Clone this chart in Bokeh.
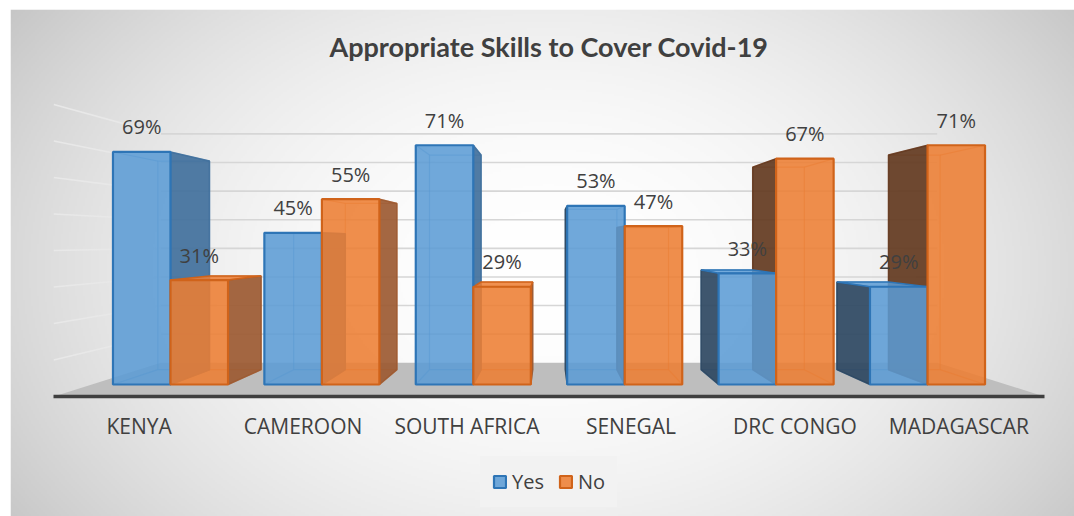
import numpy as np
from bokeh.plotting import figure
from bokeh.models import (Range1d, LinearAxis, FixedTicker, Legend, LegendItem,
                          Label, ColumnDataSource)
from bokeh.core.properties import value
from bokeh.embed import file_html
from bokeh.resources import INLINE

# ---------------- data ----------------
categories = ["KENYA", "CAMEROON", "SOUTH AFRICA", "SENEGAL", "DRC CONGO", "MADAGASCAR"]
yes_values = [69, 45, 71, 53, 33, 29]
no_values = [31, 55, 29, 47, 67, 71]
series_names = ["Yes", "No"]
title_text = "Appropriate Skills to Cover Covid-19"

# ---------------- layout / view parameters ----------------
W, H = 1074, 516
LEFT_PAD, TOP_PAD = 10, 9
FRAME_W, FRAME_H = W - LEFT_PAD, H - TOP_PAD
PX_PER_CAT = 151.4
PX_PER_PCT = 3.37
FIRST_CAT_PX = 160.0
ZERO_PX_FROM_BOTTOM = 132.0
X_START = -FIRST_CAT_PX / PX_PER_CAT
X_END = X_START + FRAME_W / PX_PER_CAT
Y_START = -ZERO_PX_FROM_BOTTOM / PX_PER_PCT
Y_END = Y_START + FRAME_H / PX_PER_PCT

BAR_W = 0.38
VX, VY = 2.5, 42.7                       # vanishing point (data units)
S_BACK, S_WALL, S_FRONT = 0.897, 0.849, 1.083
WALL_L, WALL_R = -0.52, 5.52
GRID_VALUES = [10, 20, 30, 40, 50, 60, 70, 80]

FONT = "Open Sans"
TEXT_COLOR = "#404040"

STYLE = {
    "Yes": dict(front="#5b9bd5", line="#2e75b6", side_r="#41709c", side_l="#2e4862"),
    "No": dict(front="#ed7d31", line="#d0631a", side_r="#9c5a32", side_l="#633920"),
}


def proj(x, y, s):
    return VX + s * (x - VX), VY + s * (y - VY)


p = figure(width=W, height=H, output_backend="svg", toolbar_location=None,
           x_range=Range1d(X_START, X_END), y_range=Range1d(Y_START, Y_END),
           x_axis_type=None, y_axis_type=None, min_border=0,
           min_border_left=LEFT_PAD, min_border_top=TOP_PAD)
p.outline_line_color = None
p.border_fill_color = "white"
p.background_fill_color = "white"
p.grid.visible = False

# ---------------- radial background ----------------
nx, ny = FRAME_W // 2, FRAME_H // 2
gx = LEFT_PAD + (np.arange(nx) + 0.5) * FRAME_W / nx
gy = TOP_PAD + FRAME_H - (np.arange(ny) + 0.5) * FRAME_H / ny
GX, GY = np.meshgrid(gx, gy)
r2 = ((GX - 548) / 600) ** 2 + ((GY - 270) / 420) ** 2
g = (255 - 48 * np.clip(r2, 0, 1.6)).astype(np.uint8)
img = np.empty((ny, nx), dtype=np.uint32)
view = img.view(dtype=np.uint8).reshape((ny, nx, 4))
view[:, :, 0] = g
view[:, :, 1] = g
view[:, :, 2] = g
view[:, :, 3] = 255
p.image_rgba(image=[img], x=X_START, y=Y_START, dw=X_END - X_START, dh=Y_END - Y_START)

# ---------------- walls & floor ----------------
bx0, by0, bx1, by1 = [], [], [], []
lx0, ly0, lx1, ly1 = [], [], [], []
for v in GRID_VALUES:
    a = proj(WALL_L, v, S_WALL)
    b = proj(WALL_R, v, S_WALL)
    c = proj(WALL_L, v, S_FRONT)
    bx0.append(a[0]); by0.append(a[1]); bx1.append(b[0]); by1.append(b[1])
    lx0.append(c[0]); ly0.append(c[1]); lx1.append(a[0]); ly1.append(a[1])
p.segment(x0=bx0, y0=by0, x1=bx1, y1=by1, line_color="#d6d6d6", line_width=1.6)
p.segment(x0=lx0, y0=ly0, x1=lx1, y1=ly1, line_color="#e8e8e8", line_width=1.6)

fl = [proj(WALL_L, 0, S_FRONT), proj(WALL_R, 0, S_FRONT),
      proj(WALL_R, 0, S_WALL), proj(WALL_L, 0, S_WALL)]
p.patch(x=[q[0] for q in fl], y=[q[1] for q in fl], fill_color="#bebebe", line_color=None)

# ---------------- 3D bars ----------------
side_xs, side_ys, side_col = [], [], []
top_xs, top_ys, top_col, top_line = [], [], [], []
edge_xs, edge_ys, edge_col = [], [], []
fronts = {}
for j, (name, vals) in enumerate(zip(series_names, [yes_values, no_values])):
    st = STYLE[name]
    cx = []
    for i, h in enumerate(vals):
        x0 = i - BAR_W if j == 0 else i
        x1 = x0 + BAR_W
        cx.append((x0 + x1) / 2)
        bl, br = proj(x0, 0, S_BACK), proj(x1, 0, S_BACK)
        tl, tr = proj(x0, h, S_BACK), proj(x1, h, S_BACK)
        # back outline + depth edges (seen through the translucent front)
        edge_xs.append([bl[0], br[0], tr[0], tl[0], bl[0]])
        edge_ys.append([bl[1], br[1], tr[1], tl[1], bl[1]])
        edge_col.append(st["line"])
        for (fx, fy), bk in [((x0, 0), bl), ((x1, 0), br), ((x1, h), tr), ((x0, h), tl)]:
            edge_xs.append([fx, bk[0]]); edge_ys.append([fy, bk[1]]); edge_col.append(st["line"])
        centre = (x0 + x1) / 2
        if centre < VX:
            side_xs.append([x1, x1, tr[0], br[0]]); side_ys.append([0, h, tr[1], br[1]])
            side_col.append(st["side_r"])
        else:
            side_xs.append([x0, x0, tl[0], bl[0]]); side_ys.append([0, h, tl[1], bl[1]])
            side_col.append(st["side_l"])
        if h < VY:
            top_xs.append([x0, x1, tr[0], tl[0]]); top_ys.append([h, h, tr[1], tl[1]])
            top_col.append(st["front"]); top_line.append(st["line"])
    fronts[name] = dict(x=cx, top=vals)

p.multi_line(xs=edge_xs, ys=edge_ys, line_color=edge_col, line_alpha=0.45, line_width=1.2)
p.patches(xs=side_xs, ys=side_ys, fill_color=side_col, fill_alpha=0.92,
          line_color=side_col, line_alpha=0.9, line_width=1.5)
p.patches(xs=top_xs, ys=top_ys, fill_color=top_col, fill_alpha=0.85,
          line_color=top_line, line_width=1.5)

renderers = {}
for name in series_names:
    st = STYLE[name]
    src = ColumnDataSource(dict(x=fronts[name]["x"], top=fronts[name]["top"],
                                label=[f"{v}%" for v in fronts[name]["top"]]))
    renderers[name] = p.vbar(x="x", top="top", bottom=0, width=BAR_W, source=src,
                             fill_color=st["front"], fill_alpha=0.87,
                             line_color=st["line"], line_width=2.2)

for name in series_names:
    src = renderers[name].data_source
    p.text(x="x", y="top", text="label", source=src, text_font=value(FONT),
           text_font_size="20px", text_color=TEXT_COLOR, text_align="center",
           text_baseline="middle", y_offset=-25)

# ---------------- category axis on the floor front edge ----------------
p.extra_x_ranges["front"] = Range1d(VX + (X_START - VX) / S_FRONT, VX + (X_END - VX) / S_FRONT)
FLOOR_Y = proj(0, 0, S_FRONT)[1]
xaxis = LinearAxis(x_range_name="front", fixed_location=FLOOR_Y,
                   ticker=FixedTicker(ticks=list(range(len(categories)))),
                   major_label_overrides={i: c for i, c in enumerate(categories)},
                   bounds=(WALL_L, WALL_R),
                   axis_line_color="#3f3f3f", axis_line_width=3.5,
                   major_tick_line_color=None, minor_tick_line_color=None,
                   major_label_text_font=FONT, major_label_text_font_size="21px",
                   major_label_text_color=TEXT_COLOR, major_label_standoff=10)
p.add_layout(xaxis, "below")

# ---------------- title ----------------
p.add_layout(Label(x=VX, y=FRAME_H - 37, y_units="screen", text=title_text,
                   text_align="center", text_baseline="alphabetic",
                   text_font="Lato", text_font_style="bold", text_font_size="27px",
                   text_color=TEXT_COLOR))

# ---------------- legend ----------------
legend = Legend(items=[LegendItem(label=n, renderers=[renderers[n]]) for n in series_names],
                orientation="horizontal", location=(470, 9), margin=0, padding=12,
                spacing=14, label_standoff=5, glyph_width=15, glyph_height=15,
                label_height=21,
                label_text_font=FONT, label_text_font_size="20px",
                label_text_color=TEXT_COLOR, background_fill_color="#f2f2f2",
                background_fill_alpha=1.0, border_line_alpha=0)
p.add_layout(legend, "center")

open("out.html", "w").write(file_html(p, INLINE, title=title_text))
